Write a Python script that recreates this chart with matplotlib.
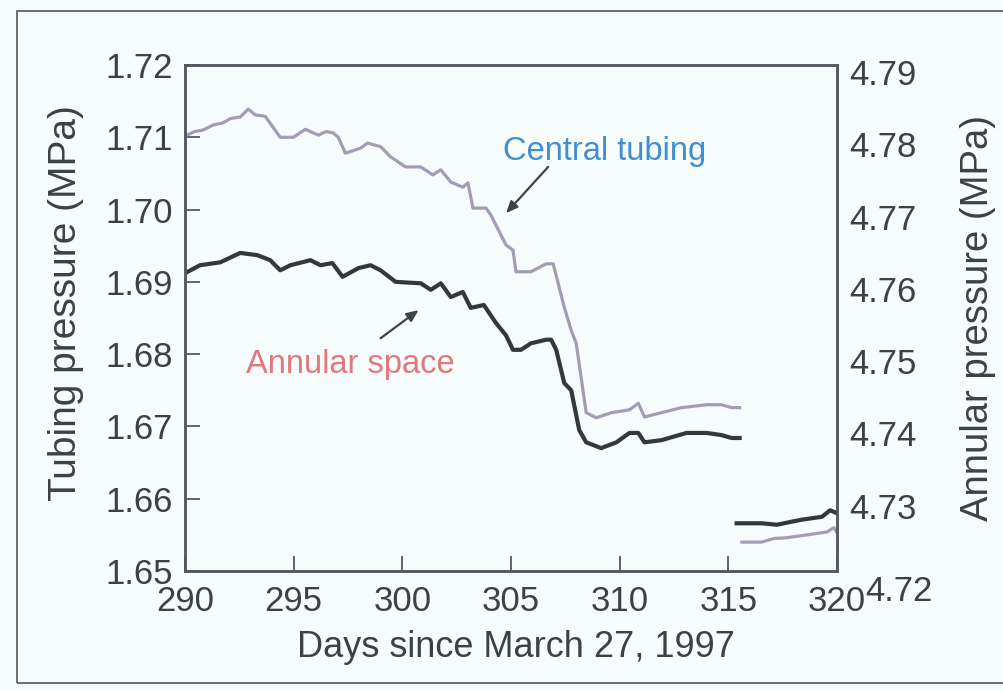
import matplotlib
matplotlib.use("Agg")
import matplotlib.pyplot as plt
from matplotlib.patches import Rectangle
from matplotlib.transforms import ScaledTranslation

# Days since March 27, 1997 and measured pressures (MPa)
tubing_days_1 = [290.09, 290.45, 290.83, 291.30, 291.75, 292.10, 292.54, 292.91, 293.23,
                 293.69, 294.00, 294.38, 294.98, 295.54, 296.14, 296.50, 296.83, 297.05,
                 297.38, 298.08, 298.40, 299.00, 299.46, 300.15, 300.85, 301.40, 301.77,
                 302.23, 302.78, 303.02, 303.25, 303.85, 304.08, 304.77, 305.09, 305.23,
                 305.92, 306.62, 306.94, 307.45, 307.77, 308.00, 308.46, 308.92, 309.62,
                 310.45, 310.86, 311.14, 311.92, 312.85, 314.00, 314.69, 315.15, 315.52]
tubing_mpa_1 = [1.7103, 1.7108, 1.7110, 1.7117, 1.7120, 1.7126, 1.7128, 1.7139, 1.7131,
                1.7129, 1.7116, 1.7100, 1.7100, 1.7111, 1.7103, 1.7108, 1.7106, 1.7100,
                1.7078, 1.7085, 1.7092, 1.7087, 1.7073, 1.7059, 1.7059, 1.7048, 1.7055,
                1.7038, 1.7031, 1.7037, 1.7002, 1.7002, 1.6992, 1.6951, 1.6944, 1.6914,
                1.6914, 1.6925, 1.6925, 1.6865, 1.6833, 1.6815, 1.6719, 1.6712, 1.6719,
                1.6723, 1.6732, 1.6713, 1.6719, 1.6726, 1.6730, 1.6730, 1.6726, 1.6726]
tubing_days_2 = [315.62, 316.54, 317.10, 317.69, 318.62, 319.54, 319.86, 320.00]
tubing_mpa_2 = [1.6540, 1.6540, 1.6545, 1.6546, 1.6550, 1.6554, 1.6560, 1.6553]

annular_days_1 = [290.00, 290.69, 291.62, 292.54, 293.32, 293.92, 294.38, 294.85, 295.77,
                  296.23, 296.78, 297.25, 297.98, 298.54, 299.00, 299.69, 300.85, 301.31,
                  301.77, 302.23, 302.78, 303.15, 303.75, 304.31, 304.77, 305.09, 305.46,
                  305.92, 306.62, 306.85, 307.08, 307.45, 307.77, 308.14, 308.46, 309.15,
                  309.85, 310.45, 310.86, 311.14, 311.92, 313.08, 314.00, 314.69, 315.15,
                  315.52]
annular_mpa_1 = [4.7612, 4.7623, 4.7627, 4.7640, 4.7637, 4.7630, 4.7616, 4.7623, 4.7630,
                 4.7623, 4.7626, 4.7607, 4.7619, 4.7623, 4.7616, 4.7600, 4.7598, 4.7589,
                 4.7598, 4.7579, 4.7586, 4.7564, 4.7568, 4.7543, 4.7526, 4.7506, 4.7506,
                 4.7515, 4.7520, 4.7520, 4.7506, 4.7460, 4.7450, 4.7395, 4.7378, 4.7370,
                 4.7378, 4.7391, 4.7391, 4.7378, 4.7381, 4.7391, 4.7391, 4.7388, 4.7384,
                 4.7384]
annular_days_2 = [315.38, 316.54, 317.23, 318.38, 319.31, 319.68, 320.00]
annular_mpa_2 = [4.7266, 4.7266, 4.7264, 4.7271, 4.7275, 4.7284, 4.7280]

day_ticks = [290, 295, 300, 305, 310, 315, 320]
tubing_ticks = [1.65, 1.66, 1.67, 1.68, 1.69, 1.70, 1.71, 1.72]
annular_ticks = [4.72, 4.73, 4.74, 4.75, 4.76, 4.77, 4.78, 4.79]

BG = "#f6fbfb"
INK = "#3b4244"
SPINE = "#4f5a60"
LIGHT = "#a59cb3"
DARK = "#33393b"

plt.rcParams["font.family"] = ["Liberation Sans", "DejaVu Sans"]

W, H = 1004, 691
fig = plt.figure(figsize=(W / 100, H / 100), dpi=100, facecolor=BG)

# outer frame of the figure panel
fig.patches.append(Rectangle((17 / W, 1 - 683 / H), 1.2, (683 - 11) / H,
                             transform=fig.transFigure, fill=False,
                             edgecolor="#6a6f70", linewidth=1.4))

ax = fig.add_axes([185 / W, 1 - 571 / H, 652 / W, 506 / H], facecolor=BG)
ax2 = ax.twinx()

ax.plot(tubing_days_1, tubing_mpa_1, color=LIGHT, lw=2.3, solid_joinstyle="round")
ax.plot(tubing_days_2, tubing_mpa_2, color=LIGHT, lw=2.3, solid_joinstyle="round")
ax2.plot(annular_days_1, annular_mpa_1, color=DARK, lw=3.0, solid_joinstyle="round")
ax2.plot(annular_days_2, annular_mpa_2, color=DARK, lw=3.0, solid_joinstyle="round")

ax.set_xlim(290, 320)
ax.set_ylim(1.65, 1.72)
ax2.set_ylim(4.72, 4.79)

ax.set_xticks(day_ticks)
ax.set_xticklabels([str(d) for d in day_ticks])
ax.set_yticks(tubing_ticks)
ax.set_yticklabels([f"{v:.2f}" for v in tubing_ticks])
ax2.set_yticks(annular_ticks)
ax2.set_yticklabels([f"{v:.2f}" for v in annular_ticks])

for a in (ax, ax2):
    for s in a.spines.values():
        s.set_color(SPINE)
        s.set_linewidth(1.8)

ax.tick_params(axis="both", direction="in", length=11, width=1.3, color=SPINE,
               labelsize=25, labelcolor=INK, pad=9)
ax.tick_params(axis="x", pad=10)
ax2.tick_params(axis="y", length=0, labelsize=25, labelcolor=INK, pad=9)

ax.set_xlabel("Days since March 27, 1997", fontsize=26, color=INK, va="center")
ax.xaxis.set_label_coords(0.508, -0.152)
ax.set_ylabel("Tubing pressure (MPa)", fontsize=28, color=INK, va="center")
ax.yaxis.set_label_coords(-0.182, 0.53)
ax2.set_ylabel("Annular pressure (MPa)", fontsize=27.5, color=INK, va="center", rotation=90)
ax2.yaxis.set_label_coords(1.216, 0.50)

ax.text(309.3, 1.7080, "Central tubing", fontsize=23.5, color="#3f8fd2",
        ha="center", va="center")
ax.text(297.6, 1.6785, "Annular space", fontsize=23.5, color="#e0787e",
        ha="center", va="center")

arrow = dict(arrowstyle="-|>,head_length=0.7,head_width=0.3", color="#3c4647", lw=1.6,
             shrinkA=0, shrinkB=0)
ax.annotate("", xy=(304.77, 1.6995), xytext=(306.71, 1.7059), arrowprops=arrow)
ax.annotate("", xy=(300.75, 1.6861), xytext=(299.0, 1.6822), arrowprops=arrow)

# right-hand labels sit slightly lower; the lowest one steps clear of "320"
fig.canvas.draw()
for lab, v in zip(ax2.get_yticklabels(), annular_ticks):
    if abs(v - 4.72) < 1e-9:
        dx, dy = 16, -17
    else:
        dx, dy = 0, -7
    lab.set_transform(lab.get_transform()
                      + ScaledTranslation(dx / 100, dy / 100, fig.dpi_scale_trans))

fig.savefig("out.png", dpi=100, facecolor=BG)
